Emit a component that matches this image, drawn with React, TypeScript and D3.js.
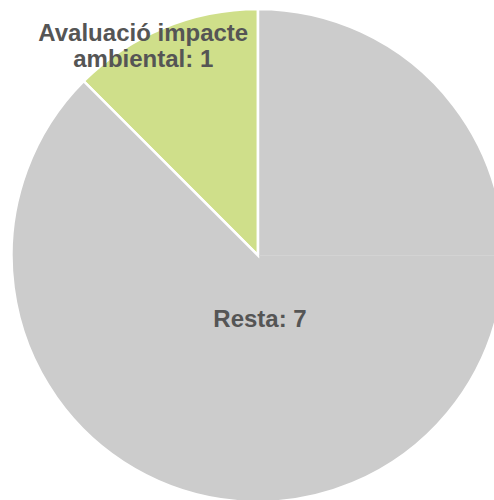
import React from 'react';
import * as d3 from 'd3';

const categories = ['Avaluació impacte ambiental', 'Resta'];
const values = [1, 7];
const colors = ['#cfdf8a', '#cccccc'];

const width = 494;
const height = 500;
const cx = 258;
const cy = 255.5;
const radius = 246.5;

// label placement relative to centre (polar: angle in deg clockwise from top, distance)
const labelPolar = [
  { angle: -28.7, dist: 239, lines: ['Avaluació impacte', 'ambiental: 1'] },
  { angle: 178.2, dist: 63, lines: ['Resta: 7'] },
];

interface Slice {
  name: string;
  value: number;
}

export default function App() {
  const data: Slice[] = categories.map((c, i) => ({ name: c, value: values[i] }));

  const pie = d3
    .pie<Slice>()
    .sort(null)
    .value((d: Slice) => d.value)
    .startAngle(-Math.PI / 4)
    .endAngle((Math.PI * 7) / 4);

  const arcs = pie(data);
  const arc = d3.arc<d3.PieArcDatum<Slice>>().innerRadius(0).outerRadius(radius);

  return (
    <svg
      width={width}
      height={height}
      style={{ position: 'absolute', left: 0, top: 0, fontFamily: '"Liberation Sans", Arial, sans-serif' }}
    >
      <g transform={`translate(${cx},${cy})`}>
        {arcs.map((a, i) => (
          <path key={i} d={arc(a) || ''} fill={colors[i]} stroke="#ffffff" strokeWidth={2.5} strokeLinejoin="miter" />
        ))}
        {/* faint seam at 3 o'clock */}
        <line x1={1} y1={0} x2={radius} y2={0} stroke="#d3d3d3" strokeWidth={1} />
        {labelPolar.map((l, i) => {
          const rad = (l.angle * Math.PI) / 180;
          const x = l.dist * Math.sin(rad);
          const y = -l.dist * Math.cos(rad);
          const lh = 26;
          const y0 = y - ((l.lines.length - 1) * lh) / 2;
          return (
            <text
              key={i}
              x={x}
              textAnchor="middle"
              fontSize={24}
              fontWeight="bold"
              fill="#555555"
            >
              {l.lines.map((t, j) => (
                <tspan key={j} x={x} y={y0 + j * lh} dy="0.35em">
                  {t}
                </tspan>
              ))}
            </text>
          );
        })}
      </g>
    </svg>
  );
}
